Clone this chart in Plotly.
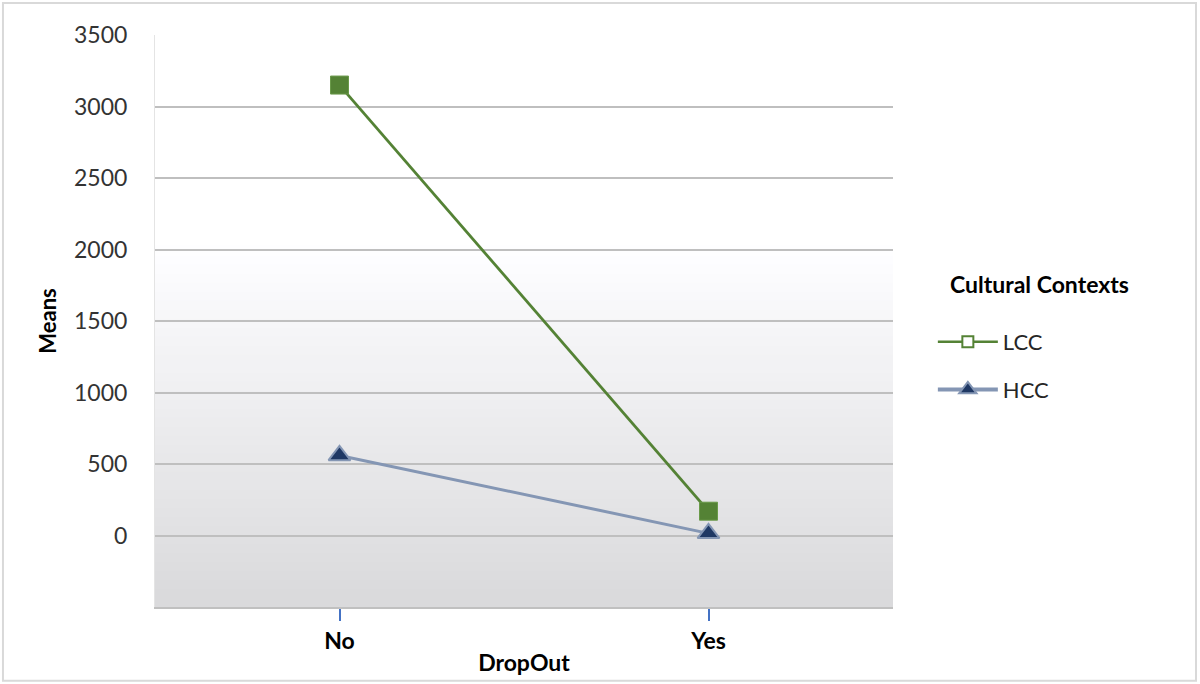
####################################################################################################################
# plot.py
#
# means of the two cultural contexts by dropout status

####################################################################################################################
# IMPORTS
import plotly.graph_objects as go

####################################################################################################################
# DATA
dropout = ['No', 'Yes']
lcc_means = [3150, 170]
hcc_means = [560, 15]
y_ticks = [0, 500, 1000, 1500, 2000, 2500, 3000, 3500]

GREEN = '#548235'
BLUE_LINE = '#8496b4'
NAVY = '#1f3864'
FONT = 'Lato, Noto Sans, sans-serif'

####################################################################################################################
# FIGURE
fig = go.Figure()

# gradient background of the plot area (white top -> light grey bottom), built from thin bands
n_bands = 40
for i in range(n_bands):
    t = i / n_bands
    c = int(255 - (255 - 218) * (1 - t))  # bottom darkest
    fig.add_shape(type='rect', xref='x domain', yref='y domain',
                  x0=0, x1=1, y0=0.63 * t, y1=0.63 * (t + 1 / n_bands) + 0.002,
                  fillcolor='rgb({0},{0},{1})'.format(c, min(255, c + 2)),
                  line=dict(width=0), layer='below')

# data traces
fig.add_trace(go.Scatter(x=dropout, y=lcc_means, mode='lines+markers', name='LCC',
                         line=dict(color=GREEN, width=2.8),
                         marker=dict(symbol='square', size=18, color=GREEN,
                                     line=dict(color='#6a9a4a', width=1)),
                         showlegend=False))
fig.add_trace(go.Scatter(x=dropout, y=hcc_means, mode='lines+markers', name='HCC',
                         line=dict(color=BLUE_LINE, width=3),
                         marker=dict(symbol='triangle-up', size=19, color=NAVY,
                                     line=dict(color=BLUE_LINE, width=2)),
                         showlegend=False))

# legend-only entries (hollow square like the original)
fig.add_trace(go.Scatter(x=[None], y=[None], mode='lines+markers', name='LCC', legendgroup='a',
                         line=dict(color=GREEN, width=2.5),
                         marker=dict(symbol='square', size=11, color='white',
                                     line=dict(color=GREEN, width=2))))
fig.add_trace(go.Scatter(x=[None], y=[None], mode='lines+markers', name='HCC', legendgroup='b',
                         line=dict(color=BLUE_LINE, width=4),
                         marker=dict(symbol='triangle-up', size=15, color=NAVY,
                                     line=dict(color=BLUE_LINE, width=2))))

# layout configuration
fig.update_layout(
    width=1200, height=684,
    paper_bgcolor='white', plot_bgcolor='rgba(0,0,0,0)',
    margin=dict(l=155, r=307, t=35, b=77),
    font=dict(family=FONT, size=23, color='#333333'),
    legend=dict(x=1.054, xanchor='left', y=0.5, yanchor='top',
                font=dict(size=22, color='#262626'), tracegroupgap=16,
                itemwidth=60, bgcolor='rgba(0,0,0,0)'),
    showlegend=True,
)
fig.add_annotation(text='<b>Cultural Contexts</b>', xref='paper', yref='paper',
                   x=1.199, y=0.565, xanchor='center', yanchor='middle', showarrow=False,
                   font=dict(size=23, color='black', family=FONT))
fig.update_xaxes(type='category', range=[-0.5, 1.5],
                 tickfont=dict(size=23, color='black', family=FONT),
                 tickprefix='<b>', ticksuffix='</b>',
                 ticks='outside', ticklen=12, tickwidth=2, tickcolor='#4472c4',
                 showgrid=False, showline=True, linecolor='#c0c0c0', linewidth=2,
                 title=dict(text='<b>DropOut</b>', font=dict(size=23, color='black'), standoff=2))
fig.update_yaxes(range=[-500, 3500], tickvals=y_ticks,
                 tickfont=dict(size=23, color='#333333'),
                 showgrid=True, gridcolor='#bfbfbf', gridwidth=1.5,
                 zeroline=False, showline=True, linecolor='#e4e4e4', linewidth=1,
                 ticks='', ticklabelstandoff=22,
                 title=dict(text='<b>Means</b>', font=dict(size=22, color='black'), standoff=11))

# outer chart border
fig.add_shape(type='rect', xref='paper', yref='paper', x0=-0.206, x1=1.4106, y0=-0.129, y1=1.056,
              line=dict(color='#d9d9d9', width=2), layer='below')

fig.write_html('out.html', config={'displayModeBar': False},
               post_script="document.body.style.margin='0';")
